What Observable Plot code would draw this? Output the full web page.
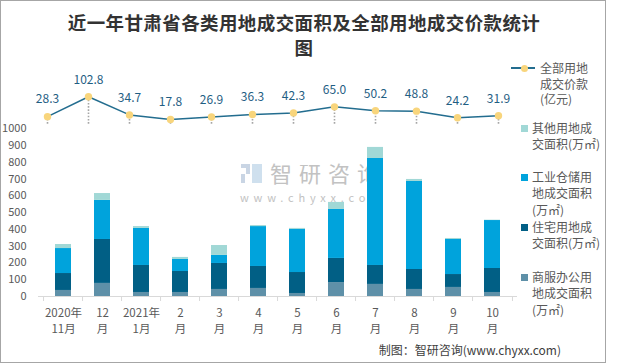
<!DOCTYPE html>
<html><head><meta charset="utf-8">
<script src="https://cdn.jsdelivr.net/npm/d3@7"></script>
<script src="https://cdn.jsdelivr.net/npm/@observablehq/plot@0.6"></script>
<style>
html,body{margin:0;padding:0;background:#fff;}
#wrap{position:relative;width:620px;height:363px;overflow:hidden;font-family:'Noto Sans CJK SC','Noto Sans',sans-serif;background:#fff;}
#frame{position:absolute;left:0;top:0;width:606px;height:363px;box-sizing:border-box;border:1px solid #a6a6a6;}
#title{position:absolute;left:66px;top:9.5px;width:476px;text-align:center;font-size:18.5px;font-weight:bold;color:#333;line-height:25px;letter-spacing:0.4px;}
.abs{position:absolute;white-space:nowrap;}
.svgl{position:absolute;left:0;top:0;}
.lg{font-size:12px;color:#595959;line-height:16.5px;}
</style>
</head><body>
<div id="wrap">
  <div id="frame"></div>
  <div class="abs" style="left:241px;top:164px;width:9px;height:4px;background:#c9d5e4"></div>
  <div class="abs" style="left:246px;top:168px;width:4px;height:6px;background:#c9d5e4"></div>
  <div class="abs" style="left:241px;top:174px;width:4px;height:9px;background:#c9d5e4"></div>
  <div class="abs" style="left:252px;top:164px;width:10px;height:19px;background:#cfe0ee"></div>
  <div class="abs" style="left:270px;top:161px;font-size:22px;line-height:22px;letter-spacing:7px;color:#c2c2c2;">智研咨询</div>
  <div class="abs" style="left:240px;top:190px;font-size:11px;line-height:14px;letter-spacing:4.8px;color:#c2c2c2;">www.chyxx.com</div>
  <div id="title">近一年甘肃省各类用地成交面积及全部用地成交价款统计图</div>
  <div id="bars" class="svgl"></div>
  <div id="line" class="svgl"></div>
  <div id="legend"></div>
  <div class="abs" style="right:59px;top:342px;font-size:12px;line-height:16px;color:#404040;">制图：智研咨询(www.chyxx.com)</div>
</div>
<script>
const categories = ["2020年\n11月", "12\n月", "2021年\n1月", "2\n月", "3\n月", "4\n月", "5\n月", "6\n月", "7\n月", "8\n月", "9\n月", "10\n月"];
const commercial = [36, 78, 24, 24, 42, 48, 18, 83, 72, 42, 54, 24];
const residential = [101, 262, 161, 125, 155, 131, 125, 144, 113, 119, 77, 143];
const industrial = [149, 233, 221, 72, 48, 238, 257, 292, 638, 525, 209, 286];
const other = [24, 41, 11, 12, 59, 6, 6, 42, 66, 12, 6, 2];
const price = [28.3, 102.8, 34.7, 17.8, 26.9, 36.3, 42.3, 65.0, 50.2, 48.8, 24.2, 31.9];
const yTicks = [0, 100, 200, 300, 400, 500, 600, 700, 800, 900, 1000];
const seriesNames = ["商服办公用地成交面积(万㎡)", "住宅用地成交面积(万㎡)", "工业仓储用地成交面积(万㎡)", "其他用地成交面积(万㎡)"];
const seriesColors = ["#5e90a8", "#015f85", "#00a3dc", "#a1d8d6"];
const legendLines = [
  ["其他用地成", "交面积(万㎡)"],
  ["工业仓储用", "地成交面积", "(万㎡)"],
  ["住宅用地成", "交面积(万㎡)"],
  ["商服办公用", "地成交面积", "(万㎡)"]
];
const lineLegend = ["全部用地", "成交价款", "(亿元)"];
const lineColor = "#236d8f", dotColor = "#f8d57c", labelColor = "#1f5e83";

const W = 620, H = 363, ML = 38, MR = 103, MT = 128.3, MB = 67;
const step = (W - ML - MR) / categories.length;
const font = "'Noto Sans CJK SC','Noto Sans',sans-serif";

const rows = [];
[commercial, residential, industrial, other].forEach((arr, s) =>
  arr.forEach((v, i) => rows.push({month: categories[i], type: seriesNames[s], value: v})));

const bars = Plot.plot({
  width: W, height: H, marginLeft: ML, marginRight: MR, marginTop: MT, marginBottom: MB,
  style: {background: "transparent", fontFamily: font, fontSize: "11.5px", color: "#595959", overflow: "visible"},
  x: {domain: categories, paddingInner: 0.6, paddingOuter: 0.3, axis: null, label: null},
  y: {domain: [0, 1000], axis: null, label: null},
  color: {domain: seriesNames, range: seriesColors},
  marks: [
    Plot.barY(rows, {x: "month", y: "value", fill: "type"}),
    Plot.ruleY([0], {stroke: "#d9d9d9"}),
    Plot.axisY(yTicks, {tickSize: 0, tickPadding: 12, fontSize: 11, label: null, tickFormat: d => String(d)}),
    Plot.axisX({tickSize: 0, tickPadding: 9, lineHeight: 1.4, label: null}),
    Plot.axisX({tickSize: 5, tickFormat: () => "", dx: -step / 2, stroke: "#d9d9d9", label: null}),
    Plot.axisX([categories[categories.length - 1]], {tickSize: 5, tickFormat: () => "", dx: step / 2, stroke: "#d9d9d9", label: null})
  ]
});
document.getElementById("bars").appendChild(bars);

const priceRows = categories.map((c, i) => ({month: c, price: price[i]}));
const line = Plot.plot({
  width: W, height: H, margin: 0,
  style: {background: "transparent", fontFamily: font, fontSize: "12px", overflow: "visible"},
  x: {type: "point", domain: categories, range: [42.3, 503.3], padding: 0, axis: null},
  y: {domain: [0, 100], range: [123.7, 97.0], axis: null},
  marks: [
    Plot.ruleX(priceRows, {x: "month", y1: 0, y2: "price", stroke: "#a6a6a6", strokeWidth: 1.6, strokeDasharray: "1.6 1.6"}),
    Plot.line(priceRows, {x: "month", y: "price", stroke: lineColor, strokeWidth: 1.5}),
    Plot.dot(priceRows, {x: "month", y: "price", r: 3.7, fill: dotColor}),
    Plot.text(priceRows, {x: "month", y: "price", text: d => d.price.toFixed(1), dy: -17, fill: labelColor, fontSize: 12})
  ]
});
document.getElementById("line").appendChild(line);

// legend
const lg = document.getElementById("legend");
const lineLeg = document.createElement("div");
lineLeg.innerHTML = `<div class="abs" style="left:511px;top:67.3px;width:24px;height:1.5px;background:${lineColor}"></div>
<div class="abs" style="left:521px;top:64.5px;width:7px;height:7px;border-radius:50%;background:${dotColor}"></div>
<div class="abs lg" style="left:540px;top:60px;line-height:15.7px">${lineLegend.join("<br>")}</div>`;
lg.appendChild(lineLeg);
const centers = [128, 177, 227, 277];
const legColors = [seriesColors[3], seriesColors[2], seriesColors[1], seriesColors[0]];
legendLines.forEach((lines, k) => {
  const d = document.createElement("div");
  d.innerHTML = `<div class="abs" style="left:521px;top:${centers[k] - 3}px;width:7px;height:7px;background:${legColors[k]}"></div>
<div class="abs lg" style="left:532px;top:${centers[k] - 8.25}px">${lines.join("<br>")}</div>`;
  lg.appendChild(d);
});
</script>
</body></html>
